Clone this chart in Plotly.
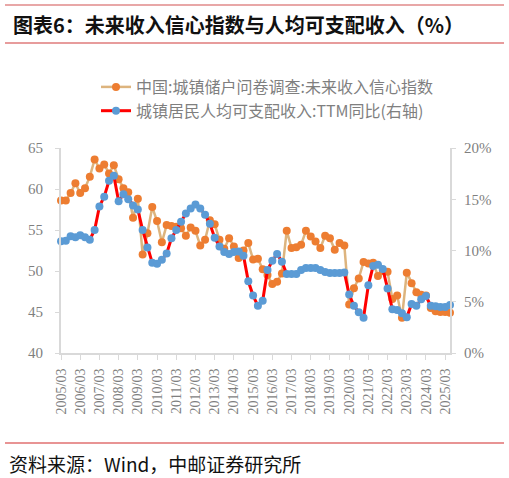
import plotly.graph_objects as go

W, H = 509, 478
L, R, T, B = 61, 450, 148, 353  # plot area in pixels

quarters = [f"{y}/{m:02d}" for y in range(2005, 2026) for m in (3, 6, 9, 12)][:82]
tick_labels = [q for q in quarters if q.endswith("/03")]

confidence = [
    58.6, 58.6, 59.5, 60.7, 59.5, 60.1, 61.5, 63.6, 62.5, 63.0,
    61.9, 62.9, 61.2, 60.1, 59.6, 56.5, 58.8, 52.0, 54.6, 57.8,
    56.1, 53.5, 55.6, 55.5, 55.4, 55.2, 54.3, 55.3, 54.9, 53.1,
    53.8, 56.2, 55.7, 53.8, 52.7, 54.0, 53.0, 51.6, 52.5, 53.4,
    51.4, 51.5, 50.2, 49.5, 48.4, 48.7, 49.7, 54.9, 52.8, 52.9,
    53.2, 54.9, 54.2, 53.6, 52.8, 54.3, 54.0, 52.6, 53.4, 53.1,
    45.9, 47.9, 49.1, 51.1, 50.9, 51.0, 49.4, 50.0, 49.9, 46.6,
    47.0, 44.3, 49.8, 48.5, 47.4, 47.1, 47.0, 45.5, 45.1, 45.0,
    45.0, 44.9,
]

income_ttm = [
    10.9, 10.95, 11.4, 11.3, 11.5, 11.3, 11.05, 12.0, 14.3, 15.25,
    16.8, 17.3, 14.8, 15.5, 15.0, 14.4, 14.0, 12.0, 10.3, 8.8,
    8.7, 9.1, 9.7, 11.2, 12.0, 12.8, 13.6, 14.1, 14.5, 14.1,
    13.5, 12.6, 11.25, 10.4, 9.85, 9.65, 9.85, 9.9, 9.5, 7.0,
    5.6, 4.6, 5.1, 8.1, 9.0, 9.66, 8.9, 7.7, 7.7, 7.7,
    8.1, 8.3, 8.3, 8.3, 8.1, 7.9, 7.8, 7.8, 7.8, 7.85,
    5.7, 4.6, 3.97, 3.45, 6.6, 8.5, 8.6, 8.2, 6.3, 4.26,
    4.2, 3.87, 3.48, 4.78, 4.6, 5.24, 5.56, 4.6, 4.55, 4.5,
    4.5, 4.68,
]

name1 = "中国:城镇储户问卷调查:未来收入信心指数"
name2 = "城镇居民人均可支配收入:TTM同比(右轴)"


def pxx(x):
    return (x - L) / (R - L)


def pxy(y):
    return (B - y) / (B - T)


cjk = "Noto Sans CJK SC"
serif = "Liberation Serif"
gray = "#7f7f7f"

fig = go.Figure()
fig.add_trace(go.Scatter(
    x=quarters, y=confidence, name=name1, mode="lines+markers",
    line=dict(color="#DDB47E", width=2.5),
    marker=dict(color="#ED7D31", size=8),
    cliponaxis=False, yaxis="y",
))
fig.add_trace(go.Scatter(
    x=quarters, y=income_ttm, name=name2, mode="lines+markers",
    line=dict(color="#FF0000", width=3),
    marker=dict(color="#5B9BD5", size=8),
    cliponaxis=False, yaxis="y2",
))

axis_line = "#d9d9d9"
fig.update_layout(
    width=W, height=H,
    margin=dict(l=L, r=W - R, t=T, b=H - B, pad=0),
    paper_bgcolor="white", plot_bgcolor="white",
    showlegend=True,
    legend=dict(
        x=pxx(96), y=pxy(70), xanchor="left", yanchor="top",
        font=dict(family=cjk, size=16, color=gray),
        bgcolor="rgba(0,0,0,0)",
    ),
    xaxis=dict(
        type="category", categoryorder="array", categoryarray=quarters,
        range=[0, len(quarters) - 1],
        tickmode="array", tickvals=tick_labels, ticktext=tick_labels,
        tickangle=-90, tickfont=dict(family=serif, size=14, color=gray),
        showgrid=False, zeroline=False,
        showline=True, linecolor=axis_line, linewidth=2,
        ticks="outside", ticklen=5, tickcolor=axis_line, tickwidth=1,
        ticklabelstandoff=3,
    ),
    yaxis=dict(
        range=[40, 65], dtick=5, tick0=40,
        tickfont=dict(family=serif, size=15, color=gray),
        showgrid=False, zeroline=False,
        showline=True, linecolor=axis_line, linewidth=2,
        ticks="outside", ticklen=4, tickcolor=axis_line,
        ticklabelstandoff=9,
    ),
    yaxis2=dict(
        range=[0, 20], dtick=5, tick0=0, overlaying="y", side="right",
        ticksuffix="%",
        tickfont=dict(family=serif, size=15, color=gray),
        showgrid=False, zeroline=False,
        showline=True, linecolor=axis_line, linewidth=2,
        ticks="outside", ticklen=4, tickcolor=axis_line,
        ticklabelstandoff=5,
    ),
)

# Header / footer decorations
shapes = [
    dict(type="line", xref="paper", yref="paper", x0=pxx(5), x1=pxx(504),
         y0=pxy(5), y1=pxy(5), line=dict(color="#e08a8a", width=1.5)),
    dict(type="line", xref="paper", yref="paper", x0=pxx(5), x1=pxx(504),
         y0=pxy(43), y1=pxy(43), line=dict(color="#d03a3a", width=1.2)),
    dict(type="line", xref="paper", yref="paper", x0=pxx(5), x1=pxx(504),
         y0=pxy(443), y1=pxy(443), line=dict(color="#e07070", width=1.5)),
]
fig.update_layout(shapes=shapes)

fig.add_annotation(
    xref="paper", yref="paper", x=pxx(11), y=pxy(25),
    xanchor="left", yanchor="middle", showarrow=False,
    text="<b>图表6：未来收入信心指数与人均可支配收入（%）</b>",
    font=dict(family=cjk, size=20, color="#111111"),
)
fig.add_annotation(
    xref="paper", yref="paper", x=pxx(7), y=pxy(463),
    xanchor="left", yanchor="middle", showarrow=False,
    text="资料来源：Wind，中邮证券研究所",
    font=dict(family=cjk, size=19, color="#111111"),
)

fig.write_html("out.html")
